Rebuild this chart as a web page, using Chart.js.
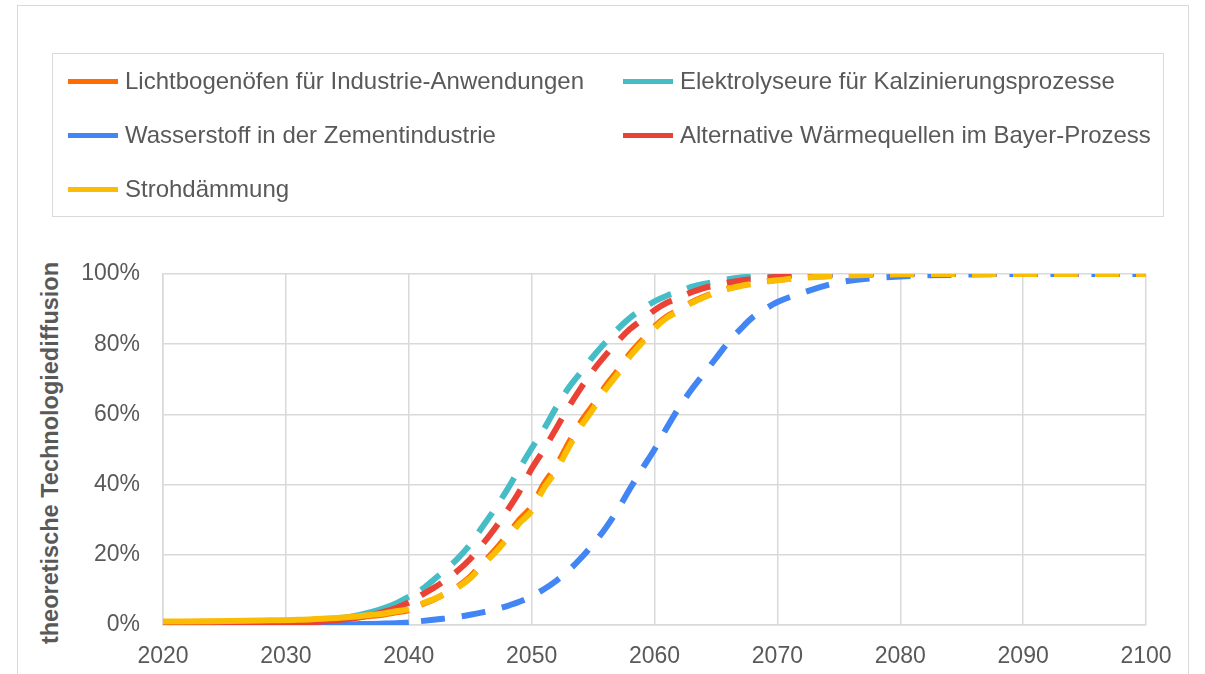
<!DOCTYPE html>
<html lang="de">
<head>
<meta charset="utf-8">
<title>Theoretische Technologiediffusion</title>
<script src="https://cdn.jsdelivr.net/npm/chart.js@4"></script>
<style>
  body { margin: 0; background: #fff; font-family: "Liberation Sans", Arial, sans-serif; color: #595959; }
  #wrap { position: relative; width: 1205px; height: 674px; overflow: hidden; }
  #frame { position: absolute; left: 17px; top: 5px; width: 1172px; height: 720px; border: 1.5px solid #d9d9d9; box-sizing: border-box; }
  #legend { position: absolute; left: 52px; top: 53px; width: 1112px; height: 164px; border: 1.5px solid #d9d9d9; box-sizing: border-box; }
  .item { position: absolute; height: 30px; font-size: 24px; line-height: 30px; white-space: nowrap; }
  .item i { position: absolute; left: 0; top: 12.5px; width: 50px; height: 5.5px; }
  .item span { position: absolute; left: 57px; top: 0; }
  #ytitle { position: absolute; left: 50px; top: 453px; transform: translate(-50%, -50%) rotate(-90deg); font-weight: bold; font-size: 23.5px; white-space: nowrap; }
  canvas { position: absolute; left: 0; top: 0; }
</style>
</head>
<body>
<div id="wrap">
  <div id="frame"></div>
  <div id="legend"></div>
  <div id="ytitle">theoretische Technologiediffusion</div>
  <canvas id="chart" width="1205" height="674"></canvas>
</div>
<script>
// years of the points (denser where the curves rise)
const years = [2020, 2024, 2028, 2031, 2033, 2035, 2036, 2037, 2038, 2039, 2040,
  2041, 2042, 2043, 2044, 2045, 2046, 2047, 2048, 2049, 2050,
  2051, 2052, 2053, 2054, 2055, 2056, 2057, 2058, 2059, 2060,
  2061, 2062, 2063, 2064, 2065, 2066, 2067, 2068, 2069, 2070,
  2072, 2075, 2080, 2085, 2090, 2095, 2100];

// values in percent
const lichtbogen = [0.8, 0.9, 1.0, 1.2, 1.5, 1.9, 2.2, 2.6, 3.0, 3.6, 4.2,
  5.8, 7.2, 9.0, 11.0, 13.8, 17.6, 21.3, 25.5, 30.0, 33.8,
  40.2, 45.3, 51.8, 57.8, 62.7, 68.0, 72.5, 77.3, 81.2, 85.0,
  87.9, 89.8, 91.9, 93.5, 94.8, 95.9, 96.7, 97.3, 97.9, 98.3,
  99.0, 99.5, 99.9, 100, 100, 100, 100];
const elektrolyse = [0.1, 0.2, 0.4, 0.8, 1.3, 2.2, 2.9, 3.7, 4.8, 6.2, 8.1,
  10.0, 12.8, 15.8, 19.0, 23.0, 28.0, 33.0, 38.5, 44.5, 50.3,
  55.8, 62.0, 67.5, 72.0, 76.5, 80.5, 84.3, 87.5, 90.0, 92.2,
  93.8, 95.0, 96.3, 97.2, 97.8, 98.5, 99.0, 99.3, 99.5, 99.6,
  99.8, 99.9, 100, 100, 100, 100, 100];
const wasserstoff = [0, 0, 0.05, 0.1, 0.15, 0.2, 0.25, 0.3, 0.4, 0.5, 0.7,
  1.1, 1.5, 1.9, 2.3, 2.9, 3.6, 4.4, 5.4, 6.6, 8.2,
  10.2, 12.6, 15.5, 19.0, 23.0, 27.5, 32.8, 38.8, 44.5, 50.0,
  56.2, 62.0, 67.0, 71.5, 76.0, 80.5, 84.3, 87.7, 90.0, 92.0,
  94.6, 97.6, 99.3, 99.8, 100, 100, 100];
const bayer = [0.1, 0.2, 0.35, 0.6, 1.0, 1.7, 2.2, 2.9, 3.8, 4.9, 6.4,
  8.5, 10.5, 12.8, 15.5, 18.8, 23.0, 27.5, 32.5, 38.0, 44.5,
  50.0, 56.0, 62.0, 67.5, 72.5, 76.8, 80.8, 84.3, 87.0, 89.7,
  91.8, 93.2, 94.8, 96.0, 96.8, 97.6, 98.1, 98.6, 98.9, 99.2,
  99.5, 99.8, 100, 100, 100, 100, 100];
const stroh = [1.0, 1.1, 1.3, 1.5, 1.8, 2.2, 2.5, 2.9, 3.3, 3.9, 4.5,
  6.0, 7.3, 9.0, 10.7, 13.3, 17.0, 20.5, 24.5, 29.0, 32.5,
  39.0, 44.0, 50.5, 56.5, 61.5, 67.0, 71.5, 76.5, 80.5, 84.5,
  87.5, 89.5, 91.7, 93.3, 94.7, 95.8, 96.6, 97.2, 97.8, 98.2,
  98.9, 99.5, 99.9, 100, 100, 100, 100];

const names = [
  'Lichtbogenöfen für Industrie-Anwendungen',
  'Elektrolyseure für Kalzinierungsprozesse',
  'Wasserstoff in der Zementindustrie',
  'Alternative Wärmequellen im Bayer-Prozess',
  'Strohdämmung'
];
const values = [lichtbogen, elektrolyse, wasserstoff, bayer, stroh];
const colors = ['#FF6D01', '#46BDC6', '#4285F4', '#EA4335', '#FBBC04'];
const yTicks = [0, 20, 40, 60, 80, 100];
const xTicks = [2020, 2030, 2040, 2050, 2060, 2070, 2080, 2090, 2100];

// legend, two columns
const legend = document.getElementById('wrap');
names.forEach((name, i) => {
  const item = document.createElement('div');
  item.className = 'item';
  item.style.left = (i % 2 === 0 ? 68 : 623) + 'px';
  item.style.top = (66 + Math.floor(i / 2) * 54) + 'px';
  item.innerHTML = '<i style="background:' + colors[i] + '"></i><span>' + name + '</span>';
  legend.appendChild(item);
});

Chart.defaults.font.family = '"Liberation Sans", Arial, sans-serif';
Chart.defaults.color = '#595959';

const datasets = names.map((name, i) => ({
  label: name,
  data: years.map((x, j) => ({ x, y: values[i][j] })),
  borderColor: colors[i],
  backgroundColor: colors[i],
  borderWidth: 6,
  borderCapStyle: 'butt',
  pointRadius: 0,
  cubicInterpolationMode: 'monotone',
  order: 5 - i,
  segment: {
    // gap between the solid part (to 2040) and the dashed part (from 2041)
    borderColor: c => c.p0.parsed.x === 2040 ? 'rgba(0,0,0,0)' : undefined,
    borderDash: c => c.p0.parsed.x >= 2041 ? [24, 17] : undefined
  }
}));

const grid = { color: '#d9d9d9', lineWidth: 1.5, drawTicks: false };
const border = { color: '#d9d9d9', width: 1.5 };

new Chart(document.getElementById('chart'), {
  type: 'line',
  data: { datasets },
  options: {
    responsive: false,
    animation: false,
    layout: { padding: { top: 274, right: 59, left: 0, bottom: 0 } },
    plugins: { legend: { display: false }, tooltip: { enabled: false } },
    scales: {
      x: {
        type: 'linear',
        min: 2020,
        max: 2100,
        afterBuildTicks: s => { s.ticks = xTicks.map(v => ({ value: v })); },
        afterFit: s => { s.height = 49; },
        ticks: { callback: v => String(v), font: { size: 23 }, padding: 18, maxRotation: 0 },
        grid,
        border
      },
      y: {
        min: 0,
        max: 100,
        afterBuildTicks: s => { s.ticks = yTicks.map(v => ({ value: v })); },
        afterFit: s => { s.width = 163; },
        ticks: { callback: v => v + '%', font: { size: 23 }, padding: 23 },
        grid,
        border
      }
    }
  }
});
</script>
</body>
</html>
